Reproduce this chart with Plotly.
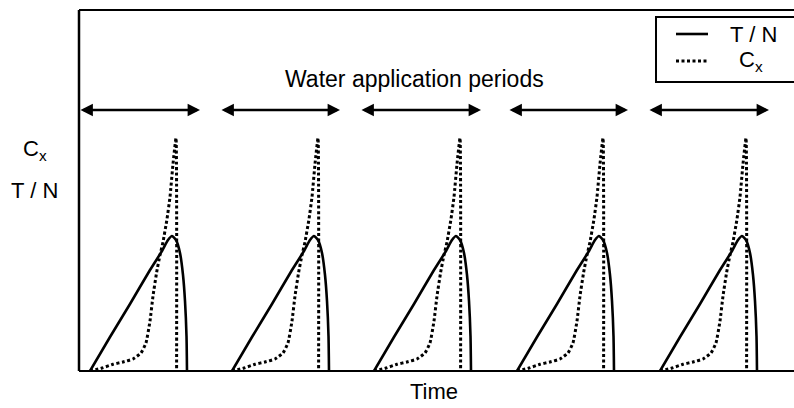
import plotly.graph_objects as go

# ---- data (time / value units) ----
cycle_starts = [11, 153, 295, 438, 581]          # start of each drying cycle
# T / N shape over one cycle (relative time, value)
tn_t = [0, 20, 40, 60, 72, 78, 82, 86, 90, 93, 95, 96.5, 97]
tn_v = [0, 34, 67, 101, 120, 131, 135, 131, 118, 96, 70, 35, 0]
# Cx shape over one cycle (relative time, value)
cx_t = [0, 12, 23, 33, 43, 51, 56, 60, 63, 66.7, 70, 73, 77, 80, 83, 86, 86.6]
cx_v = [0, 3, 6.7, 9, 12, 18, 28, 50, 75, 99, 116, 129, 152, 174, 207, 233, 0]
# water application periods (start, end)
period_start = [0, 141, 281, 429, 569]
period_end = [121, 261, 402, 549, 690]

FONT = "Liberation Sans, Arial, sans-serif"
X_MAX, Y_MAX = 715, 361

def repeat(starts, rel_t, vals):
    xs, ys = [], []
    for s in starts:
        xs += [s + t for t in rel_t] + [None]
        ys += list(vals) + [None]
    return xs, ys

tx, ty = repeat(cycle_starts, tn_t, tn_v)
cx, cy = repeat(cycle_starts, cx_t, cx_v)

fig = go.Figure()
fig.add_trace(go.Scatter(x=tx, y=ty, mode="lines", name="T / N",
                         line=dict(color="black", width=2.6, shape="spline", smoothing=0.6),
                         showlegend=False))
fig.add_trace(go.Scatter(x=cx, y=cy, mode="lines", name="C<sub>x</sub>",
                         line=dict(color="black", width=3, dash="3px,2.5px",
                                   shape="spline", smoothing=0.4),
                         showlegend=False))

arrow_y = 261
annotations = []
for a, b in zip(period_start, period_end):
    annotations.append(dict(x=b, y=arrow_y, ax=a, ay=arrow_y, xref="x", yref="y",
                            axref="x", ayref="y", text="", showarrow=True,
                            arrowhead=2, startarrowhead=2, arrowside="end+start",
                            arrowsize=0.95, startarrowsize=0.95, arrowwidth=2.6,
                            arrowcolor="black"))

def txt(x, y, s, size=23, xref="x", yref="y"):
    return dict(x=x, y=y, xref=xref, yref=yref, text=s, showarrow=False,
                font=dict(family=FONT, size=size, color="black"),
                xanchor="center", yanchor="middle")

annotations.append(txt(335, 292, "Water application periods", 23))
annotations.append(txt(674, 337, "T / N", 22))
annotations.append(txt(672, 310, "C<sub>x</sub>", 22))

# axis-side labels
annotations.append(txt(-0.062, 221, "C<sub>x</sub>", 22, xref="paper"))
annotations.append(txt(-0.062, 181, "T / N", 22, xref="paper"))
annotations.append(txt(0.4965, -0.058, "Time", 22, xref="paper", yref="paper"))

shapes = [
    # frame lines: top, left, bottom
    dict(type="line", xref="paper", yref="paper", x0=0, x1=1.2, y0=1, y1=1,
         line=dict(color="black", width=2), layer="above"),
    dict(type="line", xref="paper", yref="paper", x0=0, x1=0, y0=0, y1=1,
         line=dict(color="black", width=2.5), layer="above"),
    dict(type="line", xref="paper", yref="paper", x0=0, x1=1.2, y0=0, y1=0,
         line=dict(color="black", width=2), layer="above"),
    # legend box
    dict(type="rect", xref="paper", yref="y", x0=0.807, x1=1.2, y0=289, y1=354,
         line=dict(color="black", width=2), fillcolor="white", layer="above"),
    dict(type="line", xref="x", yref="y", x0=597, x1=629, y0=337, y1=337,
         line=dict(color="black", width=2.6), layer="above"),
    dict(type="line", xref="x", yref="y", x0=597, x1=629, y0=310, y1=310,
         line=dict(color="black", width=3, dash="3px,2.5px"), layer="above"),
]

fig.update_layout(
    width=794, height=408,
    margin=dict(l=79, r=0, t=10, b=37),
    plot_bgcolor="white", paper_bgcolor="white",
    xaxis=dict(range=[0, X_MAX], showline=False, showgrid=False, zeroline=False,
               showticklabels=False, ticks=""),
    yaxis=dict(range=[0, Y_MAX], showline=False, showgrid=False, zeroline=False,
               showticklabels=False, ticks=""),
    annotations=annotations,
    shapes=shapes,
    showlegend=False,
)

fig.write_html("out.html")
